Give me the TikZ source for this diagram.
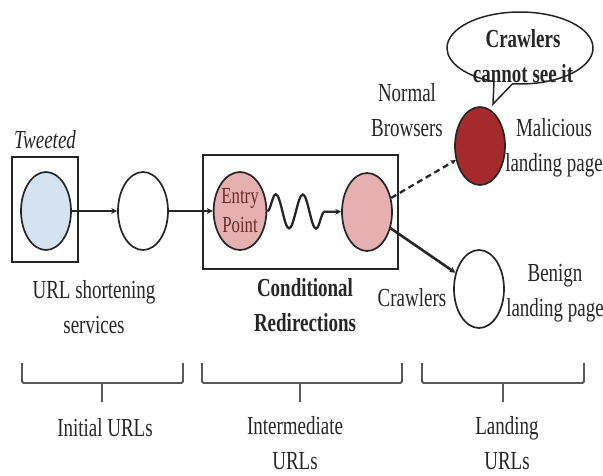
\documentclass[tikz,border=0pt]{standalone}
\usepackage{fontspec}
\setmainfont{Liberation Serif}[FakeStretch=0.73]
\usetikzlibrary{shapes.geometric,shapes.callouts,arrows.meta,decorations.pathmorphing}
\definecolor{twblue}{HTML}{D5E2F0}
\definecolor{rpink}{HTML}{E6B0B0}
\definecolor{mred}{HTML}{A42A2B}
\definecolor{eptext}{HTML}{6B2A2A}
\definecolor{ink}{HTML}{262626}
\begin{document}
\begin{tikzpicture}[x=1pt,y=-1pt,
  circ/.style={ellipse, draw=ink, line width=1.7pt, minimum width=50pt, minimum height=78pt, inner sep=0pt},
  lbl/.style={font=\fontsize{26}{35}\selectfont, align=center, text=ink, inner sep=0pt},
  boldlbl/.style={lbl, font=\fontsize{26}{35}\selectfont\bfseries},
  frame/.style={draw=ink, line width=2pt, inner sep=0pt},
  conn/.style={line width=2.6pt, draw=ink, -{Stealth[length=6pt,width=6pt]}},
  bracket/.style={draw=black!65, line width=1.8pt, rounded corners=1.5pt}
]
\useasboundingbox (0,0) rectangle (603,475);

% frames
\node[frame, minimum width=66pt, minimum height=105pt] (twbox) at (45,209.5) {};
\node[frame, minimum width=195pt, minimum height=114pt] (cbox) at (300.5,212) {};

% circles
\node[circ, fill=twblue] (tw) at (46,211) {};
\node[circ, fill=white] (sh) at (143,211) {};
\node[circ, fill=rpink, font=\fontsize{23}{29}\selectfont, text=eptext, align=center] (ep) at (240,211) {Entry\\Point};
\node[circ, fill=rpink] (rd) at (367,212) {};
\node[circ, fill=mred] (mal) at (480,146) {};
\node[circ, fill=white] (ben) at (479,289) {};

% callout
\node[ellipse callout, draw=ink, line width=1.5pt, fill=white, minimum width=146pt, minimum height=72pt,
      callout absolute pointer={(493,104)}] (co) at (520,48) {};
\node[boldlbl] (cotext) at (523,56) {Crawlers\\cannot see it};

% connectors
\draw[conn] (tw) -- (sh);
\draw[conn] (sh) -- (ep);
\draw[line width=2.3pt, draw=ink, -{Stealth[length=6pt,width=6pt]}, decorate,
      decoration={snake, amplitude=17pt, segment length=27pt, post length=6pt}] (ep) -- (rd);
\draw[line width=2.3pt, draw=ink, dash pattern=on 6pt off 4pt, -{Stealth[length=5pt,width=5pt]}] (rd) -- (mal);
\draw[conn] (rd) -- (ben);

% labels
\node[lbl, font=\fontsize{26}{35}\selectfont\itshape] (tweeted) at (45,140) {Tweeted};
\node[lbl] (urlsh) at (94,307) {URL shortening\\services};
\node[boldlbl] (condr) at (305,305) {Conditional\\Redirections};
\node[lbl] (normb) at (407,110) {Normal\\Browsers};
\node[lbl] (malt) at (554,148) {Malicious\\landing page};
\node[lbl] (crawl) at (412,298) {Crawlers};
\node[lbl] (bent) at (555,293) {Benign\\landing page};

% brackets
\draw[bracket] (22,363) -- (22,383) -- (183,383) -- (183,363);
\draw[bracket] (102,383) -- (102,402);
\draw[bracket] (202,363) -- (202,383) -- (402,383) -- (402,363);
\draw[bracket] (300,383) -- (300,402);
\draw[bracket] (422,363) -- (422,383) -- (584,383) -- (584,363);
\draw[bracket] (503,383) -- (503,402);

\node[lbl] (initu) at (105,428) {Initial URLs};
\node[lbl] (intu) at (295,443) {Intermediate\\URLs};
\node[lbl] (landu) at (507,443) {Landing\\URLs};
\end{tikzpicture}
\end{document}
